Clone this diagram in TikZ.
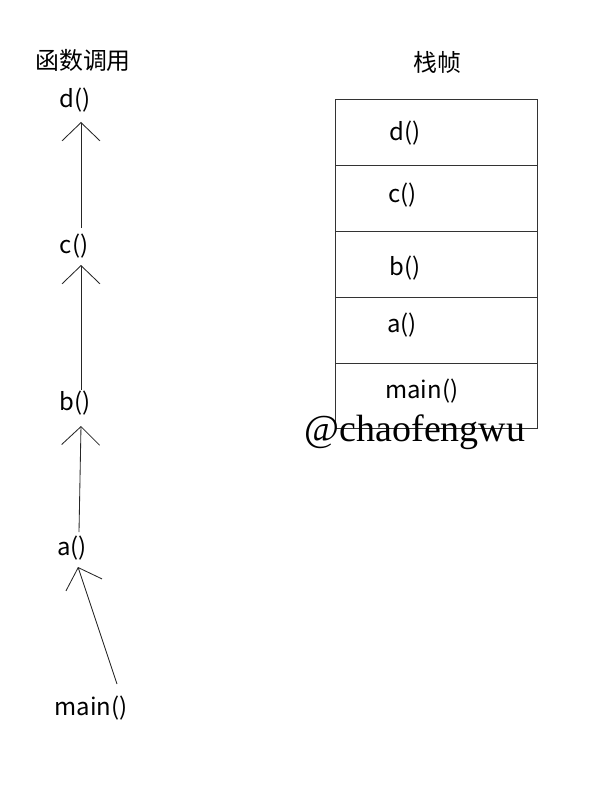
\documentclass[tikz,border=0pt]{standalone}
\usepackage{fontspec}
\usetikzlibrary{arrows.meta,calc}
\newfontfamily\cjk{Noto Sans CJK SC}
\newfontfamily\markfont{Liberation Serif}

\begin{document}
\begin{tikzpicture}[x=0.025cm, y=-0.025cm,
    every node/.style={font=\cjk\fontsize{17}{19}\selectfont, inner sep=0pt},
    call/.style={draw=black!85, line width=0.6pt, -{Straight Barb[length=13pt, width=27pt]}},
    frame/.style={draw=black!80, line width=0.6pt}]
  \useasboundingbox (0,0) rectangle (600,800);
  % call chain
  \node (title) at (83,60) {函数调用};
  \node (d) at (75,100) {d()};
  \node (c) at (74,246) {c()};
  \node (b) at (75,403) {b()};
  \node (a) at (72,548) {a()};
  \node (main) at (91,708) {main()};
  \draw[call] ($(c)+(7,-18)$) -- ($(d)+(6,22)$);
  \draw[call] ($(b)+(6,-13)$) -- ($(c)+(7,19)$);
  \draw[call] ($(a)+(7,-16)$) -- ($(b)+(6,23)$);
  \draw[call] ($(main)+(26,-24)$) -- ($(a)+(6,19)$);
  % stack frames
  \node (stack) at (437,62) {栈帧};
  \draw[frame] (335,99) rectangle (537,428);
  \draw[frame] (335,165) -- (537,165);
  \draw[frame] (335,231) -- (537,231);
  \draw[frame] (335,297) -- (537,297);
  \draw[frame] (335,363) -- (537,363);
  \node[anchor=west] (fd) at (389,133) {d()};
  \node[anchor=west] (fc) at (388,195) {c()};
  \node[anchor=west] (fb) at (389,268) {b()};
  \node[anchor=west] (fa) at (387,325) {a()};
  \node[anchor=west] (fmain) at (385,391) {main()};
  % watermark
  \node (mark) at (415,432) {\markfont\fontsize{27}{29}\selectfont @chaofengwu};
\end{tikzpicture}
\end{document}
